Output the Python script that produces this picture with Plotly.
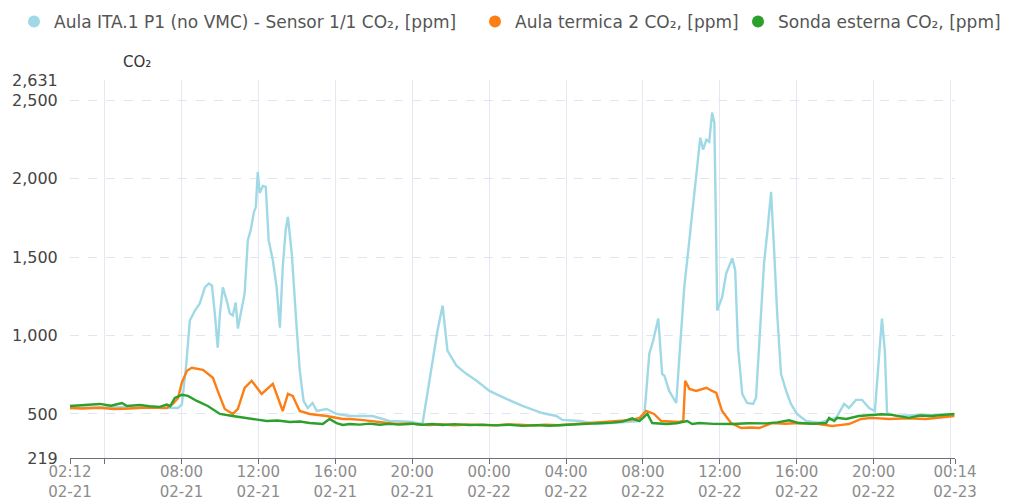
import plotly.graph_objects as go

YEAR = "2024-"

# ---- Series: Aula ITA.1 P1 (no VMC) - Sensor 1/1 CO2 ----
blue_t = ["02-21 02:12","02-21 03:45","02-21 05:19","02-21 06:52","02-21 07:49",
          "02-21 08:01","02-21 08:14","02-21 08:26","02-21 08:42","02-21 08:57",
          "02-21 09:13","02-21 09:25","02-21 09:35","02-21 09:44","02-21 09:53",
          "02-21 10:00","02-21 10:09","02-21 10:21","02-21 10:31","02-21 10:40",
          "02-21 10:49","02-21 10:56","02-21 11:08","02-21 11:17","02-21 11:27",
          "02-21 11:36","02-21 11:46","02-21 11:52","02-21 11:58","02-21 12:04",
          "02-21 12:14","02-21 12:23","02-21 12:32","02-21 12:45","02-21 12:57",
          "02-21 13:07","02-21 13:16","02-21 13:25","02-21 13:32","02-21 13:44",
          "02-21 14:00","02-21 14:09","02-21 14:21","02-21 14:34","02-21 14:49",
          "02-21 15:02","02-21 15:33","02-21 16:04","02-21 16:45","02-21 17:56",
          "02-21 18:49","02-21 19:52","02-21 20:32","02-21 20:54","02-21 21:19",
          "02-21 21:35","02-21 21:50","02-21 22:18","02-21 22:49","02-21 23:21",
          "02-22 00:01","02-22 00:54","02-22 01:44","02-22 02:46","02-22 03:30",
          "02-22 03:49","02-22 04:42","02-22 05:35","02-22 06:46","02-22 07:49",
          "02-22 08:04","02-22 08:20","02-22 08:32","02-22 08:48","02-22 09:00",
          "02-22 09:07","02-22 09:22","02-22 09:32","02-22 09:44","02-22 09:53",
          "02-22 10:09","02-22 10:25","02-22 10:46","02-22 10:59","02-22 11:08",
          "02-22 11:18","02-22 11:27","02-22 11:36","02-22 11:43","02-22 11:52",
          "02-22 12:07","02-22 12:20","02-22 12:39","02-22 12:48","02-22 12:57",
          "02-22 13:10","02-22 13:25","02-22 13:44","02-22 13:53","02-22 14:03",
          "02-22 14:18","02-22 14:28","02-22 14:40","02-22 14:49","02-22 14:59",
          "02-22 15:11","02-22 15:27","02-22 15:42","02-22 16:01","02-22 16:29",
          "02-22 17:10","02-22 18:03","02-22 18:28","02-22 18:43","02-22 19:05",
          "02-22 19:24","02-22 19:46","02-22 20:04","02-22 20:17","02-22 20:26",
          "02-22 20:35","02-22 20:42","02-22 21:10","02-22 22:22","02-23 00:12"]
blue_v = [538, 540, 545, 540, 538,
          560, 800, 1096, 1160, 1205,
          1308, 1333, 1320, 1141, 923,
          1141, 1308, 1224, 1141, 1128,
          1211, 1045, 1180, 1269, 1609,
          1673, 1788, 1820, 2045, 1910,
          1955, 1949, 1609, 1481, 1308,
          1051, 1436, 1673, 1757, 1526,
          1032, 776, 583, 538, 570,
          519, 532, 500, 487, 487,
          455, 450, 436, 712, 1032,
          1192, 904, 808, 756, 712,
          647, 596, 551, 506, 487,
          462, 455, 436, 445, 455,
          480, 885, 968, 1109, 756,
          744, 647, 615, 570, 840,
          1308, 1609, 1993, 2263, 2186,
          2250, 2237, 2423, 2359, 1160,
          1244, 1397, 1494, 1417, 923,
          628, 570, 564, 603, 968,
          1462, 1654, 1917, 1564, 1141,
          756, 647, 564, 500, 455,
          445, 475, 564, 538, 590,
          590, 538, 519, 904, 1109,
          904, 506, 487, 494, 494]

# ---- Series: Aula termica 2 CO2 ----
orange_t = ["02-21 02:12","02-21 02:50","02-21 03:45","02-21 04:30","02-21 05:19",
            "02-21 06:10","02-21 07:14","02-21 07:33","02-21 07:49","02-21 08:01",
            "02-21 08:17","02-21 08:32","02-21 09:07","02-21 09:38","02-21 09:53",
            "02-21 10:15","02-21 10:40","02-21 10:56","02-21 11:17","02-21 11:39",
            "02-21 12:10","02-21 12:29","02-21 12:45","02-21 13:16","02-21 13:32",
            "02-21 13:47","02-21 14:09","02-21 14:40","02-21 15:33","02-21 16:23",
            "02-21 16:45","02-21 17:20","02-21 17:47","02-21 18:30","02-21 19:11",
            "02-21 19:50","02-21 20:20","02-21 20:54","02-21 21:30","02-21 22:10",
            "02-21 22:50","02-21 23:30",
            "02-22 00:15","02-22 00:55","02-22 01:35","02-22 02:15","02-22 02:55",
            "02-22 03:39","02-22 04:20","02-22 05:00","02-22 05:35","02-22 06:15",
            "02-22 06:56","02-22 07:25","02-22 07:49","02-22 08:10","02-22 08:35",
            "02-22 08:57","02-22 09:53","02-22 10:06","02-22 10:12","02-22 10:25",
            "02-22 10:46","02-22 11:18","02-22 11:36","02-22 11:49","02-22 12:07",
            "02-22 12:35","02-22 13:07","02-22 13:40","02-22 14:03","02-22 14:43",
            "02-22 15:25","02-22 16:07","02-22 17:10","02-22 17:50","02-22 18:20",
            "02-22 18:43","02-22 19:21","02-22 19:55","02-22 20:48","02-22 21:45",
            "02-22 22:43","02-22 23:30","02-23 00:12"]
orange_v = [538, 535, 540, 532, 535,
            541, 538, 564, 600, 700,
            776, 795, 782, 731, 647,
            532, 500, 532, 667, 712,
            628, 660, 692, 519, 628,
            615, 519, 500, 487, 468,
            468, 462, 455, 447, 436,
            440, 432, 430, 434, 428,
            433, 430,
            427, 433, 432, 426, 431,
            428, 434, 438, 442, 447,
            455, 462, 474, 519, 500,
            455, 449, 455, 712, 660,
            647, 667, 647, 635, 519,
            442, 410, 414, 410, 442,
            438, 442, 436, 423, 430,
            436, 468, 475, 468, 472,
            468, 478, 487]

# ---- Series: Sonda esterna CO2 ----
green_t = ["02-21 02:12","02-21 02:50","02-21 03:45","02-21 04:20","02-21 04:54",
           "02-21 05:10","02-21 05:50","02-21 06:20","02-21 06:52","02-21 07:14",
           "02-21 07:25","02-21 07:39","02-21 08:01","02-21 08:20","02-21 08:48",
           "02-21 09:22","02-21 10:00","02-21 10:40","02-21 11:24","02-21 12:26",
           "02-21 13:00","02-21 13:38","02-21 14:10","02-21 14:40","02-21 15:21",
           "02-21 15:42","02-21 16:04","02-21 16:23","02-21 16:45","02-21 17:16",
           "02-21 17:47","02-21 18:18","02-21 18:49","02-21 19:21","02-21 20:01",
           "02-21 20:32","02-21 21:03","02-21 21:35","02-21 22:12","02-21 22:59",
           "02-21 23:39",
           "02-22 00:23","02-22 01:03","02-22 01:44","02-22 02:28","02-22 03:08",
           "02-22 03:49","02-22 04:32","02-22 05:13","02-22 05:53","02-22 06:25",
           "02-22 06:56","02-22 07:27","02-22 07:39","02-22 07:49","02-22 08:14",
           "02-22 08:29","02-22 09:13","02-22 09:45","02-22 10:18","02-22 10:34",
           "02-22 10:56","02-22 11:40","02-22 12:39","02-22 13:30","02-22 14:25",
           "02-22 15:00","02-22 15:36","02-22 16:07","02-22 16:50","02-22 17:32",
           "02-22 17:41","02-22 17:57","02-22 18:06","02-22 18:34","02-22 19:14",
           "02-22 19:55","02-22 20:25","02-22 20:57","02-22 21:50","02-22 22:25",
           "02-22 23:02","02-22 23:40","02-23 00:12"]
green_v = [551, 556, 564, 553, 570,
           551, 558, 549, 545, 560,
           550, 603, 622, 615, 583,
           551, 500, 487, 474, 455,
           458, 449, 452, 442, 436,
           468, 442, 430, 436, 432,
           438, 431, 437, 432, 438,
           431, 436, 430, 435, 429,
           432,
           427, 431, 424, 429, 425,
           430, 433, 437, 440, 445,
           451, 472, 460, 455, 500,
           442, 436, 441, 455, 436,
           442, 437, 436, 441, 440,
           446, 460, 442, 438, 442,
           475, 455, 475, 468, 487,
           494, 498, 494, 475, 490,
           487, 495, 500]

names = ["Aula ITA.1 P1 (no VMC) - Sensor 1/1 CO\u2082, [ppm]",
         "Aula termica 2 CO\u2082, [ppm]",
         "Sonda esterna CO\u2082, [ppm]"]
colors = ["#a0d9e6", "#fd7e14", "#2ca02c"]

x_tickvals = ["02-21 02:12", "02-21 04:00", "02-21 08:00", "02-21 12:00", "02-21 16:00",
              "02-21 20:00", "02-22 00:00", "02-22 04:00", "02-22 08:00", "02-22 12:00",
              "02-22 16:00", "02-22 20:00", "02-23 00:00", "02-23 00:14"]
x_ticktext = ["02:12<br>02-21", "", "08:00<br>02-21", "12:00<br>02-21", "16:00<br>02-21",
              "20:00<br>02-21", "00:00<br>02-22", "04:00<br>02-22", "08:00<br>02-22",
              "12:00<br>02-22", "16:00<br>02-22", "20:00<br>02-22", "", "00:14<br>02-23"]
y_tickvals = [219, 500, 1000, 1500, 2000, 2500, 2631]
y_ticktext = ["219", "500", "1,000", "1,500", "2,000", "2,500", "2,631"]


def full(ts):
    return [YEAR + t for t in ts]


legend_ids = ["legend", "legend2", "legend3"]
fig = go.Figure()
series = [(blue_t, blue_v), (orange_t, orange_v), (green_t, green_v)]
for i, (ts, vs) in enumerate(series):
    fig.add_trace(go.Scatter(x=full(ts), y=vs, mode="lines", name=names[i],
                             line=dict(color=colors[i], width=2.4),
                             legendgroup=str(i), showlegend=False,
                             hoverinfo="x+y"))
for i in range(3):
    fig.add_trace(go.Scatter(x=[None], y=[None], mode="markers", name=names[i],
                             marker=dict(color=colors[i], size=18),
                             legendgroup=str(i), showlegend=True,
                             legend=legend_ids[i]))

FONT = "DejaVu Sans, Noto Sans, sans-serif"
W, H = 1009, 499
ML, MR, MT, MB = 70, 54, 80, 41
PW, PH = W - ML - MR, H - MT - MB


def leg(px_left):
    return dict(orientation="h", x=(px_left - ML) / PW, xanchor="left",
                y=(PH + MT - 22) / PH, yanchor="middle",
                font=dict(family=FONT, size=17, color="#555"),
                bgcolor="rgba(0,0,0,0)", itemsizing="constant")


fig.update_layout(
    width=W, height=H,
    margin=dict(l=ML, r=MR, t=MT, b=MB, autoexpand=False),
    paper_bgcolor="white", plot_bgcolor="white",
    font=dict(family=FONT, size=14, color="#555"),
    legend=leg(14), legend2=leg(475), legend3=leg(738),
    xaxis=dict(type="date", range=[YEAR + "02-21 02:12", YEAR + "02-23 00:14"],
               tickmode="array", tickvals=full(x_tickvals), ticktext=x_ticktext,
               showgrid=True, gridcolor="#e3e8f2", gridwidth=1,
               showline=True, linecolor="#6e7079", linewidth=1,
               ticks="outside", ticklen=5, tickcolor="#6e7079",
               ticklabelstandoff=-5,
               tickfont=dict(family=FONT, size=15, color="#8c8c8c"),
               zeroline=False, fixedrange=True, automargin=False),
    yaxis=dict(range=[219, 2631], tickmode="array", tickvals=y_tickvals,
               ticktext=y_ticktext, showgrid=True, gridcolor="#e0e6f1",
               griddash="dash", gridwidth=1, showline=False, zeroline=False,
               ticks="outside", ticklen=8, tickcolor="rgba(0,0,0,0)",
               tickfont=dict(family=FONT, size=16, color="#444"),
               fixedrange=True, automargin=False),
    annotations=[dict(text="CO\u2082", xref="paper", yref="paper",
                      x=(137 - ML) / PW, y=(PH + MT - 62) / PH,
                      xanchor="center", yanchor="middle", showarrow=False,
                      font=dict(family=FONT, size=15, color="#333"))],
)

# remove the browser's default 8px body margin so the figure fills the window
fig.write_html("out.html",
               config={"displayModeBar": False},
               post_script="document.body.style.margin='0';"
                           "document.body.style.overflow='hidden';")
